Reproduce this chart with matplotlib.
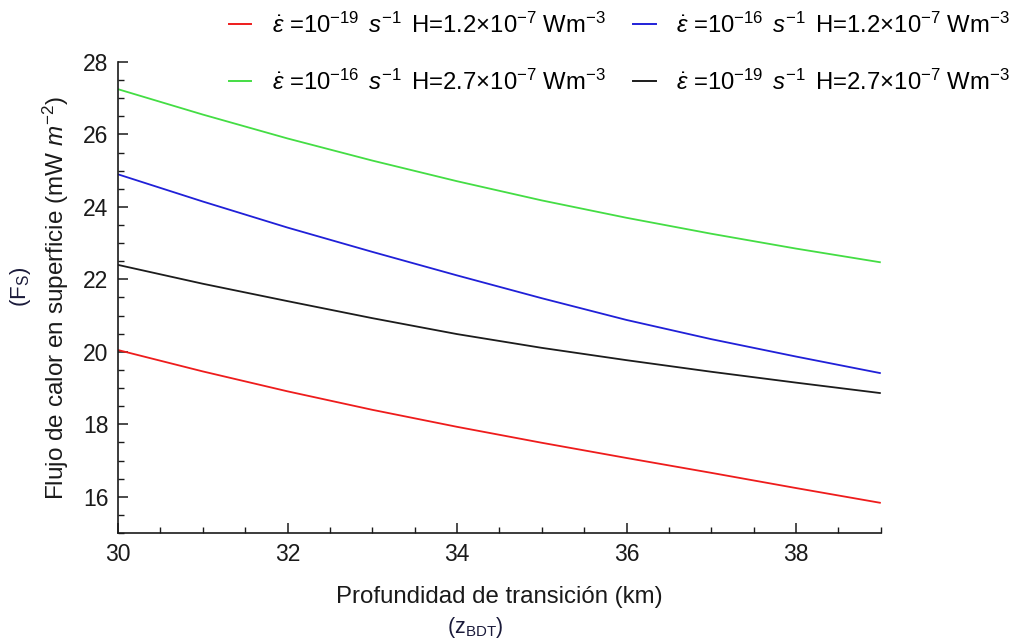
import matplotlib
matplotlib.use("Agg")
import matplotlib.pyplot as plt
from matplotlib.ticker import MultipleLocator
from matplotlib.lines import Line2D

plt.rcParams['font.family'] = ['Liberation Sans', 'DejaVu Sans']
plt.rcParams['mathtext.fontset'] = 'custom'
plt.rcParams['mathtext.rm'] = 'Liberation Sans'
plt.rcParams['mathtext.it'] = 'Liberation Sans:italic'
plt.rcParams['mathtext.bf'] = 'Liberation Sans:bold'

# Transition depth (km)
depth = [30, 31, 32, 33, 34, 35, 36, 37, 38, 39]

# Surface heat flow (mW m^-2) for each strain rate / heat production pair
flux_e19_h12 = [20.05, 19.46, 18.91, 18.40, 17.93, 17.49, 17.07, 16.66, 16.24, 15.83]
flux_e16_h12 = [24.90, 24.15, 23.43, 22.76, 22.11, 21.48, 20.88, 20.35, 19.87, 19.41]
flux_e16_h27 = [27.25, 26.55, 25.89, 25.28, 24.71, 24.18, 23.70, 23.26, 22.85, 22.47]
flux_e19_h27 = [22.40, 21.88, 21.40, 20.93, 20.49, 20.11, 19.77, 19.45, 19.15, 18.86]

labels = [
    r'$\dot{\epsilon}$ =10$^{-19}$ $\,s^{-1}\,$ H=1.2×10$^{-7}$ Wm$^{-3}$',
    r'$\dot{\epsilon}$ =10$^{-16}$ $\,s^{-1}\,$ H=2.7×10$^{-7}$ Wm$^{-3}$',
    r'$\dot{\epsilon}$ =10$^{-16}$ $\,s^{-1}\,$ H=1.2×10$^{-7}$ Wm$^{-3}$',
    r'$\dot{\epsilon}$ =10$^{-19}$ $\,s^{-1}\,$ H=2.7×10$^{-7}$ Wm$^{-3}$',
]
colors = ['#ee1c1c', '#44dd44', '#2020d8', '#1c1c1c']
series = [flux_e19_h12, flux_e16_h27, flux_e16_h12, flux_e19_h27]

fig = plt.figure(figsize=(10.35, 6.44), dpi=100)
ax = fig.add_axes([0.114, 0.1724, 0.737, 0.7313])

for ys, c in zip(series, colors):
    ax.plot(depth, ys, color=c, lw=1.3, solid_capstyle='butt')

ax.set_xlim(30, 39)
ax.set_ylim(15, 28)
ax.spines['top'].set_visible(False)
ax.spines['right'].set_visible(False)
for s in ('left', 'bottom'):
    ax.spines[s].set_linewidth(1.2)
    ax.spines[s].set_color('#1a1a1a')

ax.xaxis.set_major_locator(MultipleLocator(2))
ax.xaxis.set_minor_locator(MultipleLocator(0.5))
ax.yaxis.set_major_locator(MultipleLocator(2))
ax.yaxis.set_minor_locator(MultipleLocator(0.5))
ax.tick_params(which='major', direction='in', length=7, width=1.1, labelsize=16.5,
               colors='#1a1a1a', pad=7)
ax.tick_params(which='minor', direction='in', length=4, width=1.0, colors='#1a1a1a')

ax.set_xlabel('Profundidad de transición (km)', fontsize=17.3, color='#1a1a1a')
ax.set_ylabel(r'Flujo de calor en superficie (mW $m^{-2}$)', fontsize=17.5,
              color='#1a1a1a')
ax.xaxis.set_label_coords(0.5, -0.112)
ax.yaxis.set_label_coords(-0.062, 0.5)

fig.text(0.459, 0.025, r'(z$_{\mathrm{BDT}}$)', fontsize=15.5, color='#1a1a3a',
         ha='center', va='center')
fig.text(0.020, 0.554, r'(F$_{\mathrm{S}}$)', fontsize=16, color='#1a1a3a',
         ha='center', va='center', rotation=90)

handles = [Line2D([], [], color=c, lw=1.4) for c in colors]
fig.legend(handles, labels, ncol=2, loc='upper left', bbox_to_anchor=(0.2, 1.014),
           frameon=False, fontsize=17.2, handlelength=0.95, handletextpad=0.85,
           labelspacing=1.33, columnspacing=1.15)

fig.savefig('out.png', dpi=100, facecolor='white')
